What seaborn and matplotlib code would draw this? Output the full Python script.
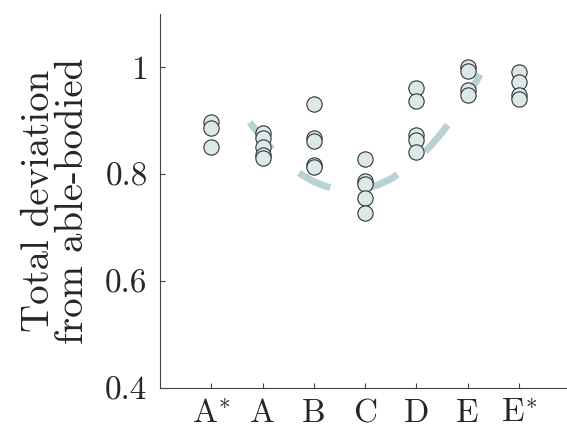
import numpy as np
import pandas as pd
import matplotlib
matplotlib.use("Agg")
import matplotlib.pyplot as plt
import seaborn as sns

# ---- data ----
categories = ["A*", "A", "B", "C", "D", "E", "E*"]
tick_labels = ["A$^{*}$", "A", "B", "C", "D", "E", "E$^{*}$"]
vals_Astar = [0.897, 0.887, 0.851]
vals_A = [0.877, 0.868, 0.851, 0.836, 0.830]
vals_B = [0.932, 0.868, 0.863, 0.818, 0.813]
vals_C = [0.829, 0.787, 0.782, 0.755, 0.728]
vals_D = [0.962, 0.938, 0.873, 0.864, 0.842]
vals_E = [1.000, 0.993, 0.958, 0.948]
vals_Estar = [0.991, 0.973, 0.948, 0.940]

# dashed trend curve (x in category-position units, 0 = A*)
curve_x = [0.75, 1.0, 1.25, 1.5, 1.75, 2.0, 2.25, 2.5, 2.75, 3.0,
           3.25, 3.5, 3.75, 4.0, 4.25, 4.5, 4.75, 5.0, 5.25]
curve_y = [0.897, 0.867, 0.840, 0.818, 0.800, 0.786, 0.777, 0.771, 0.770, 0.773,
           0.780, 0.791, 0.807, 0.826, 0.850, 0.878, 0.910, 0.947, 0.987]

all_vals = [vals_Astar, vals_A, vals_B, vals_C, vals_D, vals_E, vals_Estar]
df = pd.DataFrame({
    "cond": [c for c, v in zip(categories, all_vals) for _ in v],
    "dev": [x for v in all_vals for x in v],
})

sns.set_style("ticks")
plt.rcParams["font.family"] = ["cmr10", "DejaVu Serif"]
plt.rcParams["mathtext.fontset"] = "cm"
plt.rcParams["axes.formatter.use_mathtext"] = True
plt.rcParams["axes.unicode_minus"] = False

fig = plt.figure(figsize=(5.67, 4.29), dpi=100)
ax = fig.add_axes([0.2822, 0.0956, 0.716, 0.8718])

curve_color = "#b8d2d2"
sns.lineplot(x=curve_x, y=curve_y, ax=ax, color=curve_color, linewidth=5,
             linestyle=(0, (5.0, 5.2)), solid_capstyle="butt", zorder=1,
             sort=False, estimator=None)

sns.stripplot(data=df, x="cond", y="dev", order=categories, jitter=False,
              ax=ax, color="#dce9e8", edgecolor="#333333", linewidth=0.8,
              size=11, zorder=3)

ax.set_xlim(-1, 6.92)
ax.set_ylim(0.4, 1.1)
ax.set_yticks([0.4, 0.6, 0.8, 1.0])
ax.set_yticklabels(["0.4", "0.6", "0.8", "1"])
ax.set_xticks(range(len(categories)))
ax.set_xticklabels(tick_labels)
ax.set_xlabel("")
ax.set_ylabel("Total deviation\nfrom able-bodied", fontsize=28, labelpad=10,
              linespacing=0.95)
ax.tick_params(direction="in", length=3.5, width=0.8, color="#444444",
               labelsize=24)
ax.tick_params(axis="y", pad=9)
ax.tick_params(axis="x", pad=8)
for s in ["top", "right"]:
    ax.spines[s].set_visible(False)
for s in ["left", "bottom"]:
    ax.spines[s].set_color("#444444")
    ax.spines[s].set_linewidth(0.8)

fig.savefig("out.png", dpi=100)
